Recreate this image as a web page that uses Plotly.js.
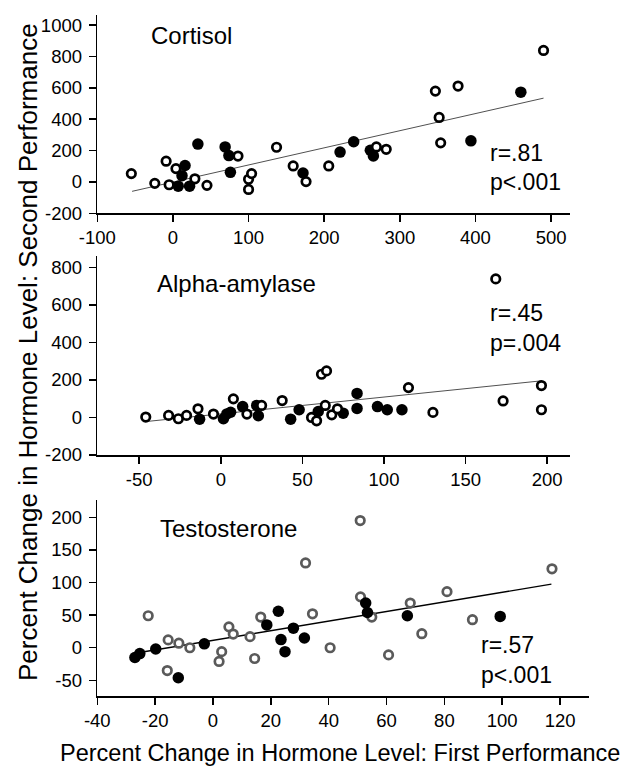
<!DOCTYPE html>
<html>
<head>
<meta charset="utf-8">
<script src="https://cdn.plot.ly/plotly-3.0.1.min.js"></script>
<style>html,body{margin:0;padding:0;background:#fff;}#chart{width:644px;height:767px;}</style>
</head>
<body>
<div id="chart"></div>
<script>
// ---- Cortisol ----
const cortisolOpenX = [-55, -24, -9, -5, 4, 29, 45, 86, 100, 104, 100, 137, 159, 176, 206, 269, 282, 347, 377, 352, 354, 490];
const cortisolOpenY = [53, -9, 132, -18, 85, 20, -22, 165, 17, 53, -48, 221, 102, 2, 102, 223, 208, 579, 611, 411, 249, 838];
const cortisolFilledX = [7, 22, 12, 16, 33, 69, 74, 76, 172, 221, 239, 261, 265, 394, 460];
const cortisolFilledY = [-27, -27, 40, 105, 241, 223, 168, 61, 57, 190, 256, 202, 166, 262, 572];
const cortisolFitX = [-54, 490];
const cortisolFitY = [-60, 534];

// ---- Alpha-amylase ----
const amylaseOpenX = [-46, -32, -26, -21, -14, -4.5, 7.7, 16, 25, 37.6, 55.6, 58.7, 61.7, 64.8, 64, 68, 71.5, 115, 130, 168.5, 173, 196.5, 196.5];
const amylaseOpenY = [2, 11, -7, 11, 46, 18, 99, 18, 64, 90, 0, -18, 230, 248, 64, 14, 46, 159, 27, 738, 88, 170, 41];
const amylaseFilledX = [-13, 1.6, 3.7, 6, 13.4, 22, 23, 42.8, 48, 59.7, 75, 83.5, 83.5, 96, 102, 111];
const amylaseFilledY = [-9, -7, 19, 28, 58, 64, 9, -9, 41, 32, 23, 48, 128, 58, 41, 41];
const amylaseFitX = [-46, 196.5];
const amylaseFitY = [-22, 195];

// ---- Testosterone ----
const testoOpenX = [-22.4, -15.5, -15.8, -11.8, -8, 2.1, 3, 5.5, 7, 12.8, 14.4, 16.5, 32, 34.4, 40.5, 50.9, 51, 54.9, 60.7, 68.2, 72.2, 80.9, 89.7, 117.2];
const testoOpenY = [49, 12, -35, 7, 0, -21, -6, 32, 21, 17, -16.5, 47, 130, 52, 0, 195, 78, 47, -11, 68.5, 21.5, 86, 43, 121];
const testoFilledX = [-27, -25.3, -19.8, -12, -3, 18.6, 22.6, 23.5, 24.9, 27.8, 31.6, 52.8, 53.4, 67.2, 99.3];
const testoFilledY = [-15, -9, -2, -46, 6, 35, 56, 12.5, -6, 30, 15, 68.5, 54, 49, 48];
const testoFitX = [-27, 117];
const testoFitY = [-8.5, 97.5];

// ---- Tick labels / text ----
const cortisolTicksX = [-100, 0, 100, 200, 300, 400, 500];
const cortisolTicksY = [-200, 0, 200, 400, 600, 800, 1000];
const amylaseTicksX = [-50, 0, 50, 100, 150, 200];
const amylaseTicksY = [-200, 0, 200, 400, 600, 800];
const testoTicksX = [-40, -20, 0, 20, 40, 60, 80, 100, 120];
const testoTicksY = [-50, 0, 50, 100, 150, 200];
const panelTitles = ["Cortisol", "Alpha-amylase", "Testosterone"];
const statR = ["r=.81", "r=.45", "r=.57"];
const statP = ["p<.001", "p=.004", "p<.001"];
const xTitle = "Percent Change in Hormone Level: First Performance";
const yTitle = "Percent Change in Hormone Level: Second Performance";

const W = 644, H = 767;
const FONT = "Arial, 'Liberation Sans', sans-serif";

function fitTrace(x, y, xa, ya, color, width) {
  return {x: x, y: y, xaxis: xa, yaxis: ya, mode: 'lines', type: 'scatter',
          line: {color: color, width: width}, hoverinfo: 'skip', showlegend: false, cliponaxis: false};
}
function openTrace(x, y, xa, ya, color) {
  return {x: x, y: y, xaxis: xa, yaxis: ya, mode: 'markers', type: 'scatter', cliponaxis: false,
          marker: {symbol: 'circle', size: 8.5, color: '#ffffff', line: {color: color, width: 2.7}}, showlegend: false};
}
function filledTrace(x, y, xa, ya) {
  return {x: x, y: y, xaxis: xa, yaxis: ya, mode: 'markers', type: 'scatter', cliponaxis: false,
          marker: {symbol: 'circle', size: 11.5, color: '#000000', line: {width: 0}}, showlegend: false};
}

const data = [
  fitTrace(cortisolFitX, cortisolFitY, 'x', 'y', '#505050', 1),
  filledTrace(cortisolFilledX, cortisolFilledY, 'x', 'y'),
  openTrace(cortisolOpenX, cortisolOpenY, 'x', 'y', '#000000'),
  fitTrace(amylaseFitX, amylaseFitY, 'x2', 'y2', '#505050', 1),
  filledTrace(amylaseFilledX, amylaseFilledY, 'x2', 'y2'),
  openTrace(amylaseOpenX, amylaseOpenY, 'x2', 'y2', '#000000'),
  fitTrace(testoFitX, testoFitY, 'x3', 'y3', '#000000', 1.4),
  openTrace(testoOpenX, testoOpenY, 'x3', 'y3', '#5a5a5a'),
  filledTrace(testoFilledX, testoFilledY, 'x3', 'y3')
];

function axis(ticks, extra) {
  return Object.assign({
    showline: true, linecolor: '#000', linewidth: 1.6, mirror: false,
    ticks: 'outside', ticklen: 7, tickwidth: 1.5, tickcolor: '#000',
    showgrid: false, zeroline: false, fixedrange: true,
    tickfont: {family: FONT, size: 18.5, color: '#000'},
    tickmode: 'array', tickvals: ticks, ticktext: ticks.map(v => String(v))
  }, extra);
}
const px = v => v / W;
const py = v => 1 - v / H;

const layout = {
  width: W, height: H,
  margin: {l: 0, r: 0, t: 0, b: 0},
  paper_bgcolor: '#fff', plot_bgcolor: 'rgba(0,0,0,0)',
  showlegend: false,
  font: {family: FONT, color: '#000'},
  xaxis: axis(cortisolTicksX, {domain: [px(97.3), px(570)], range: [-100, 525], anchor: 'y'}),
  yaxis: axis(cortisolTicksY, {domain: [py(213.3), py(15)], range: [-200, 1064], anchor: 'x', ticklabelstandoff: 3}),
  xaxis2: axis(amylaseTicksX, {domain: [px(97.3), px(570)], range: [-75.7, 214], anchor: 'y2'}),
  yaxis2: axis(amylaseTicksY, {domain: [py(455), py(256)], range: [-200, 860], anchor: 'x2', ticklabelstandoff: 3}),
  xaxis3: axis(testoTicksX, {domain: [px(97.3), px(589)], range: [-40, 130], anchor: 'y3'}),
  yaxis3: axis(testoTicksY, {domain: [py(696), py(500)], range: [-74, 226.5], anchor: 'x3', ticklabelstandoff: 3}),
  annotations: [
    {xref: 'x', yref: 'y', x: -31.6, y: 931, text: panelTitles[0], showarrow: false, xanchor: 'left', yanchor: 'middle', font: {size: 24, family: FONT}},
    {xref: 'x', yref: 'y', x: 417, y: 185, text: statR[0], showarrow: false, xanchor: 'left', yanchor: 'middle', font: {size: 23, family: FONT}},
    {xref: 'x', yref: 'y', x: 417, y: 0, text: statP[0], showarrow: false, xanchor: 'left', yanchor: 'middle', font: {size: 23, family: FONT}},
    {xref: 'x2', yref: 'y2', x: -40.6, y: 715, text: panelTitles[1], showarrow: false, xanchor: 'left', yanchor: 'middle', font: {size: 24, family: FONT}},
    {xref: 'x2', yref: 'y2', x: 164, y: 554, text: statR[1], showarrow: false, xanchor: 'left', yanchor: 'middle', font: {size: 23, family: FONT}},
    {xref: 'x2', yref: 'y2', x: 164, y: 394, text: statP[1], showarrow: false, xanchor: 'left', yanchor: 'middle', font: {size: 23, family: FONT}},
    {xref: 'x3', yref: 'y3', x: -18.9, y: 183, text: panelTitles[2], showarrow: false, xanchor: 'left', yanchor: 'middle', font: {size: 24, family: FONT}},
    {xref: 'x3', yref: 'y3', x: 92.1, y: 4.1, text: statR[2], showarrow: false, xanchor: 'left', yanchor: 'middle', font: {size: 23, family: FONT}},
    {xref: 'x3', yref: 'y3', x: 92.1, y: -41.9, text: statP[2], showarrow: false, xanchor: 'left', yanchor: 'middle', font: {size: 23, family: FONT}},
    {xref: 'paper', yref: 'paper', x: px(340), y: py(753), text: xTitle, showarrow: false, xanchor: 'center', yanchor: 'middle', font: {size: 23.5, family: FONT}},
    {xref: 'paper', yref: 'paper', x: px(28), y: py(352), text: yTitle, showarrow: false, textangle: -90, xanchor: 'center', yanchor: 'middle', font: {size: 26, family: FONT}}
  ]
};

Plotly.newPlot('chart', data, layout, {displayModeBar: false, staticPlot: true});
</script>
</body>
</html>
